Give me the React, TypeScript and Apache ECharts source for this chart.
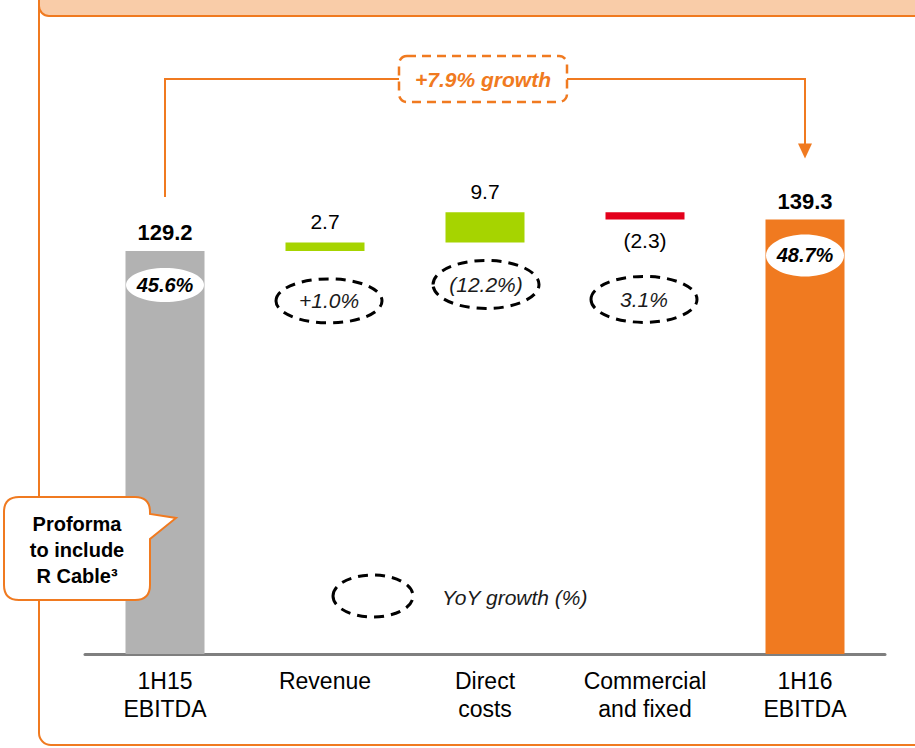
import { useEffect, useRef } from "react";
import * as echarts from "echarts";

// EBITDA bridge, 1H15 -> 1H16 (EUR m)
const categories = ["1H15\nEBITDA", "Revenue", "Direct\ncosts", "Commercial\nand fixed", "1H16\nEBITDA"];
const startEbitda = 129.2;
const bridgeDeltas = [2.7, 9.7, -2.3];
const endEbitda = 139.3;
const marginLabels = ["45.6%", "48.7%"];
const yoyLabels = ["+1.0%", "(12.2%)", "3.1%"];
const growthLabel = "+7.9% growth";
const legendLabel = "YoY growth (%)";
const calloutText = "Proforma\nto include\nR Cable³";

const barColors = ["#B2B2B2", "#A6D400", "#A6D400", "#E3001B", "#F07A20"];
const ORANGE = "#F07A20";
const FONT = "'Liberation Sans', Arial, sans-serif";

// Speech-bubble outline for the proforma note (pointer on the right edge)
echarts.graphic.registerShape(
  "callout",
  echarts.graphic.extendPath(
    "M15 0 H131 Q146 0 146 15 V17 L172 21 L146 42 V88 Q146 103 131 103 H15 Q0 103 0 88 V15 Q0 0 15 0 Z",
    {}
  )
);

const r1 = (v: number) => Math.round(v * 10) / 10;

// Invisible bases and visible heights for the waterfall
const bases: number[] = [0];
const heights: number[] = [startEbitda];
const tops: number[] = [startEbitda];
let running = startEbitda;
bridgeDeltas.forEach((d) => {
  const next = r1(running + d);
  bases.push(Math.min(running, next));
  heights.push(r1(Math.abs(d)));
  tops.push(Math.max(running, next));
  running = next;
});
bases.push(0);
heights.push(endEbitda);
tops.push(endEbitda);

export default function App() {
  const ref = useRef<HTMLDivElement>(null);

  useEffect(() => {
    if (!ref.current) return;
    const chart = echarts.init(ref.current, null, { renderer: "svg" });
    const last = categories.length - 1;

    chart.setOption({
      animation: false,
      backgroundColor: "#ffffff",
      grid: { left: 85, right: 30, top: 186, bottom: 94, containLabel: false },
      xAxis: {
        type: "category",
        data: categories,
        axisLine: { lineStyle: { color: "#7F7F7F", width: 3 } },
        axisTick: { show: false },
        axisLabel: {
          color: "#000",
          fontFamily: FONT,
          fontSize: 23,
          lineHeight: 28,
          margin: 13,
          interval: 0,
        },
      },
      yAxis: { type: "value", min: 0, max: 150, show: false, splitLine: { show: false } },
      series: [
        {
          type: "bar",
          stack: "bridge",
          barWidth: 79,
          silent: true,
          itemStyle: { color: "transparent" },
          data: bases,
        },
        {
          type: "bar",
          stack: "bridge",
          barWidth: 79,
          data: heights.map((h, i) => {
            const isTotal = i === 0 || i === last;
            const delta = isTotal ? 0 : bridgeDeltas[i - 1];
            const text = isTotal
              ? h.toFixed(1)
              : delta < 0
              ? `(${Math.abs(delta).toFixed(1)})`
              : delta.toFixed(1);
            return {
              value: h,
              itemStyle: { color: barColors[i] },
              label: {
                show: true,
                position: delta < 0 ? "bottom" : "top",
                distance: isTotal ? 7 : delta < 0 ? 11 : 10,
                formatter: () => text,
                color: "#000",
                fontFamily: FONT,
                fontSize: isTotal ? 22 : 21,
                fontWeight: isTotal ? "bold" : "normal",
              },
            };
          }),
        },
      ],
    });

    const px = (i: number, v: number) => chart.convertToPixel({ xAxisIndex: 0, yAxisIndex: 0 }, [i, v]) as number[];

    const graphics: any[] = [];

    // Outer frame and header strip
    graphics.push({
      type: "rect",
      z: 1,
      shape: { x: 39, y: -20, width: 900, height: 765, r: 12 },
      style: { fill: "none", stroke: ORANGE, lineWidth: 2 },
    });
    graphics.push({
      type: "rect",
      z: 2,
      shape: { x: 39, y: -20, width: 900, height: 36, r: [0, 0, 0, 10] },
      style: { fill: "#F9CCA8", stroke: ORANGE, lineWidth: 2 },
    });

    // Margin badges on the two totals
    const marginIdx = [0, last];
    const marginOffsets = [34, 36];
    const marginRy = [17, 21];
    marginIdx.forEach((ci, k) => {
      const [x, y] = px(ci, tops[ci]);
      const cy = y + marginOffsets[k];
      graphics.push({
        type: "ellipse",
        z: 100,
        shape: { cx: x, cy, rx: 39, ry: marginRy[k] },
        style: { fill: "#ffffff" },
      });
      graphics.push({
        type: "text",
        z: 101,
        x,
        y: cy,
        style: {
          text: marginLabels[k],
          align: "center",
          verticalAlign: "middle",
          fill: "#000",
          font: `italic bold 20px ${FONT}`,
        },
      });
    });

    // Dashed YoY growth bubbles below each bridge step
    const yoyOffsets = [50, 42, 80];
    const yoyDx = [4, 1, -1];
    const yoyRy = [22, 24, 23];
    yoyLabels.forEach((lbl, k) => {
      const ci = k + 1;
      const [x, y] = px(ci, bases[ci]);
      const cx = x + yoyDx[k];
      const cy = y + yoyOffsets[k];
      graphics.push({
        type: "ellipse",
        z: 100,
        shape: { cx, cy, rx: 53, ry: yoyRy[k] },
        style: { fill: "none", stroke: "#000", lineWidth: 3, lineDash: [10, 7] },
      });
      graphics.push({
        type: "text",
        z: 101,
        x: cx,
        y: cy,
        style: {
          text: lbl,
          align: "center",
          verticalAlign: "middle",
          fill: "#1a1a1a",
          font: `italic 21px ${FONT}`,
        },
      });
    });

    // Legend for the dashed bubbles
    graphics.push({
      type: "ellipse",
      z: 100,
      shape: { cx: 373, cy: 596, rx: 40, ry: 21 },
      style: { fill: "none", stroke: "#000", lineWidth: 3, lineDash: [10, 7] },
    });
    graphics.push({
      type: "text",
      z: 101,
      x: 442,
      y: 597,
      style: {
        text: legendLabel,
        align: "left",
        verticalAlign: "middle",
        fill: "#1a1a1a",
        font: `italic 21px ${FONT}`,
      },
    });

    // Growth bracket from 1H15 to 1H16 with arrow
    const [x0, yTop0] = px(0, startEbitda);
    const [x4, yTop4] = px(last, endEbitda);
    const bracketY = 79;
    const tipY = yTop4 - 61;
    graphics.push({
      type: "polyline",
      z: 50,
      shape: { points: [[x0, yTop0 - 54], [x0, bracketY], [400, bracketY]] },
      style: { stroke: ORANGE, lineWidth: 2, fill: "none" },
    });
    graphics.push({
      type: "polyline",
      z: 50,
      shape: { points: [[566, bracketY], [x4, bracketY], [x4, tipY - 12]] },
      style: { stroke: ORANGE, lineWidth: 2, fill: "none" },
    });
    graphics.push({
      type: "polygon",
      z: 50,
      shape: { points: [[x4 - 7, tipY - 15], [x4 + 7, tipY - 15], [x4, tipY]] },
      style: { fill: ORANGE },
    });
    graphics.push({
      type: "rect",
      z: 51,
      shape: { x: 399, y: 56, width: 168, height: 46, r: 8 },
      style: { fill: "#ffffff", stroke: ORANGE, lineWidth: 2.5, lineDash: [9, 6] },
    });
    graphics.push({
      type: "text",
      z: 52,
      x: 483,
      y: 79,
      style: {
        text: growthLabel,
        align: "center",
        verticalAlign: "middle",
        fill: ORANGE,
        font: `italic bold 21px ${FONT}`,
      },
    });

    // Proforma note bubble
    graphics.push({
      type: "callout",
      z: 110,
      x: 4,
      y: 497,
      style: { fill: "#ffffff", stroke: ORANGE, lineWidth: 2 },
    });
    graphics.push({
      type: "text",
      z: 111,
      x: 77,
      y: 550,
      style: {
        text: calloutText,
        align: "center",
        verticalAlign: "middle",
        fill: "#000",
        lineHeight: 26,
        font: `bold 20px ${FONT}`,
      },
    });

    chart.setOption({ graphic: { elements: graphics } });

    return () => chart.dispose();
  }, []);

  return (
    <div
      ref={ref}
      style={{ position: "fixed", left: 0, top: 0, width: 915, height: 748 }}
    />
  );
}
